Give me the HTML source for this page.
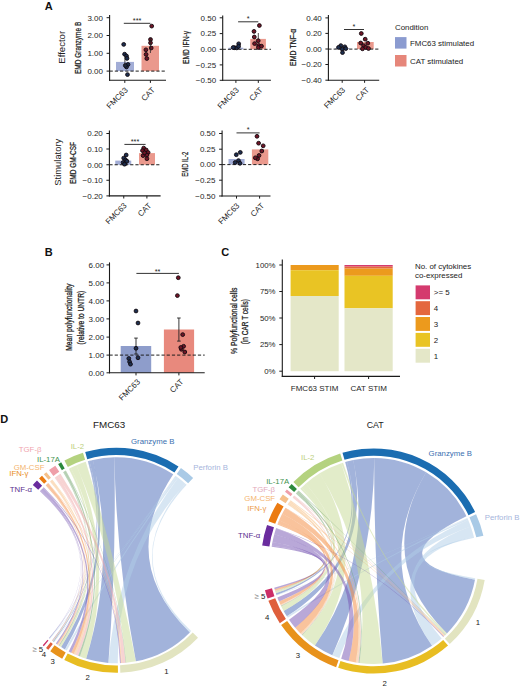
<!DOCTYPE html>
<html><head><meta charset="utf-8"><style>
html,body{margin:0;padding:0;background:#fff;width:520px;height:688px;overflow:hidden}
body{position:relative;font-family:"Liberation Sans", sans-serif}
</style></head><body>
<svg width="520" height="688" viewBox="0 0 520 688" style="position:absolute;left:0;top:0">
<g font-family='"Liberation Sans", sans-serif'>
<text x="44.8" y="10.2" font-size="11" text-anchor="start" fill="#111" font-weight="bold">A</text>
<text x="44.8" y="256.4" font-size="11" text-anchor="start" fill="#111" font-weight="bold">B</text>
<text x="221.3" y="256.4" font-size="11" text-anchor="start" fill="#111" font-weight="bold">C</text>
<text x="0.3" y="423.2" font-size="11" text-anchor="start" fill="#111" font-weight="bold">D</text>
<text x="65" y="47.3" font-size="9.6" text-anchor="middle" fill="#222" font-weight="normal" transform="rotate(-90 65 47.3)">Effector</text>
<text x="60.8" y="162.2" font-size="9.4" text-anchor="middle" fill="#222" font-weight="normal" transform="rotate(-90 60.8 162.2)">Stimulatory</text>
<line x1="109.6" y1="15" x2="109.6" y2="80.8" stroke="#1a1a1a" stroke-width="1.1"/>
<line x1="109.1" y1="80.3" x2="166" y2="80.3" stroke="#1a1a1a" stroke-width="1.1"/>
<line x1="106.6" y1="17.7" x2="109.6" y2="17.7" stroke="#1a1a1a" stroke-width="1"/>
<text x="103.0" y="20.5" font-size="8" text-anchor="end" fill="#262626" font-weight="normal">3.00</text>
<line x1="106.6" y1="35.5" x2="109.6" y2="35.5" stroke="#1a1a1a" stroke-width="1"/>
<text x="103.0" y="38.3" font-size="8" text-anchor="end" fill="#262626" font-weight="normal">2.00</text>
<line x1="106.6" y1="53.3" x2="109.6" y2="53.3" stroke="#1a1a1a" stroke-width="1"/>
<text x="103.0" y="56.099999999999994" font-size="8" text-anchor="end" fill="#262626" font-weight="normal">1.00</text>
<line x1="106.6" y1="71.1" x2="109.6" y2="71.1" stroke="#1a1a1a" stroke-width="1"/>
<text x="103.0" y="73.89999999999999" font-size="8" text-anchor="end" fill="#262626" font-weight="normal">0.00</text>
<line x1="124.8" y1="80.3" x2="124.8" y2="82.89999999999999" stroke="#1a1a1a" stroke-width="1"/>
<line x1="150.4" y1="80.3" x2="150.4" y2="82.89999999999999" stroke="#1a1a1a" stroke-width="1"/>
<rect x="116" y="61.9" width="18" height="9.199999999999996" fill="#a2add6"/>
<rect x="141.5" y="45.8" width="17.5" height="25.299999999999997" fill="#ea998d"/>
<line x1="109.6" y1="71.1" x2="166" y2="71.1" stroke="#1e1e1e" stroke-width="1" stroke-dasharray="3.2,2"/>
<circle cx="123.7" cy="44.4" r="1.9" fill="#1c2e4e" stroke="#120a10" stroke-width="0.9"/>
<circle cx="124.6" cy="54.2" r="1.9" fill="#1c2e4e" stroke="#120a10" stroke-width="0.9"/>
<circle cx="126.5" cy="56" r="1.9" fill="#1c2e4e" stroke="#120a10" stroke-width="0.9"/>
<circle cx="127" cy="58.4" r="1.9" fill="#1c2e4e" stroke="#120a10" stroke-width="0.9"/>
<circle cx="128" cy="64.5" r="1.9" fill="#1c2e4e" stroke="#120a10" stroke-width="0.9"/>
<circle cx="126.5" cy="67" r="1.9" fill="#1c2e4e" stroke="#120a10" stroke-width="0.9"/>
<circle cx="125.3" cy="65.5" r="1.9" fill="#1c2e4e" stroke="#120a10" stroke-width="0.9"/>
<circle cx="127.5" cy="74.6" r="1.9" fill="#1c2e4e" stroke="#120a10" stroke-width="0.9"/>
<circle cx="151.7" cy="26.1" r="1.9" fill="#701526" stroke="#120a10" stroke-width="0.9"/>
<circle cx="150.5" cy="39.5" r="1.9" fill="#701526" stroke="#120a10" stroke-width="0.9"/>
<circle cx="150.5" cy="42.8" r="1.9" fill="#701526" stroke="#120a10" stroke-width="0.9"/>
<circle cx="151.2" cy="48" r="1.9" fill="#701526" stroke="#120a10" stroke-width="0.9"/>
<circle cx="145.9" cy="49.8" r="1.9" fill="#701526" stroke="#120a10" stroke-width="0.9"/>
<circle cx="146.1" cy="54.4" r="1.9" fill="#701526" stroke="#120a10" stroke-width="0.9"/>
<circle cx="146.8" cy="58.5" r="1.9" fill="#701526" stroke="#120a10" stroke-width="0.9"/>
<line x1="123.8" y1="23.3" x2="150.4" y2="23.3" stroke="#333" stroke-width="1"/>
<text x="137.1" y="22.8" font-size="7.3" text-anchor="middle" fill="#222" font-weight="normal">***</text>
<text x="81.0" y="47.9" font-size="9" text-anchor="middle" fill="#1a1a1a" font-weight="normal" transform="rotate(-90 81.0 47.9)" textLength="52.4" lengthAdjust="spacingAndGlyphs" stroke="#1a1a1a" stroke-width="0.25">EMD Granzyme B</text>
<text x="128.3" y="90.6" font-size="8" text-anchor="end" fill="#262626" font-weight="normal" transform="rotate(-45 128.3 90.6)">FMC63</text>
<text x="155.4" y="90.6" font-size="8" text-anchor="end" fill="#262626" font-weight="normal" transform="rotate(-45 155.4 90.6)">CAT</text>
<line x1="124.9" y1="57" x2="124.9" y2="67" stroke="#222" stroke-width="0.8"/>
<line x1="150.4" y1="38" x2="150.4" y2="53" stroke="#222" stroke-width="0.8"/>
<line x1="258.3" y1="33" x2="258.3" y2="44" stroke="#222" stroke-width="0.8"/>
<line x1="222.7" y1="15.4" x2="222.7" y2="80.8" stroke="#1a1a1a" stroke-width="1.1"/>
<line x1="222.2" y1="80.3" x2="270.9" y2="80.3" stroke="#1a1a1a" stroke-width="1.1"/>
<line x1="219.7" y1="17.8" x2="222.7" y2="17.8" stroke="#1a1a1a" stroke-width="1"/>
<text x="216.1" y="20.6" font-size="8" text-anchor="end" fill="#262626" font-weight="normal">0.50</text>
<line x1="219.7" y1="33.6" x2="222.7" y2="33.6" stroke="#1a1a1a" stroke-width="1"/>
<text x="216.1" y="36.4" font-size="8" text-anchor="end" fill="#262626" font-weight="normal">0.25</text>
<line x1="219.7" y1="49.3" x2="222.7" y2="49.3" stroke="#1a1a1a" stroke-width="1"/>
<text x="216.1" y="52.099999999999994" font-size="8" text-anchor="end" fill="#262626" font-weight="normal">0.00</text>
<line x1="219.7" y1="64.9" x2="222.7" y2="64.9" stroke="#1a1a1a" stroke-width="1"/>
<text x="216.1" y="67.7" font-size="8" text-anchor="end" fill="#262626" font-weight="normal">−0.25</text>
<line x1="219.7" y1="80.3" x2="222.7" y2="80.3" stroke="#1a1a1a" stroke-width="1"/>
<text x="216.1" y="83.1" font-size="8" text-anchor="end" fill="#262626" font-weight="normal">−0.50</text>
<line x1="235.9" y1="80.3" x2="235.9" y2="82.89999999999999" stroke="#1a1a1a" stroke-width="1"/>
<line x1="258.3" y1="80.3" x2="258.3" y2="82.89999999999999" stroke="#1a1a1a" stroke-width="1"/>
<rect x="228.5" y="47.7" width="14.800000000000011" height="1.5999999999999943" fill="#a2add6"/>
<rect x="250.3" y="38.9" width="15.599999999999966" height="10.399999999999999" fill="#ea998d"/>
<line x1="222.7" y1="49.3" x2="270.9" y2="49.3" stroke="#1e1e1e" stroke-width="1" stroke-dasharray="3.2,2"/>
<circle cx="238.7" cy="43.8" r="1.9" fill="#1c2e4e" stroke="#120a10" stroke-width="0.9"/>
<circle cx="234.6" cy="47.7" r="1.9" fill="#1c2e4e" stroke="#120a10" stroke-width="0.9"/>
<circle cx="236.8" cy="47.9" r="1.9" fill="#1c2e4e" stroke="#120a10" stroke-width="0.9"/>
<circle cx="238.6" cy="46.4" r="1.9" fill="#1c2e4e" stroke="#120a10" stroke-width="0.9"/>
<circle cx="233.2" cy="47.5" r="1.9" fill="#1c2e4e" stroke="#120a10" stroke-width="0.9"/>
<circle cx="259.4" cy="25.5" r="1.9" fill="#701526" stroke="#120a10" stroke-width="0.9"/>
<circle cx="254" cy="31.4" r="1.9" fill="#701526" stroke="#120a10" stroke-width="0.9"/>
<circle cx="254.3" cy="37" r="1.9" fill="#701526" stroke="#120a10" stroke-width="0.9"/>
<circle cx="258.2" cy="40.7" r="1.9" fill="#701526" stroke="#120a10" stroke-width="0.9"/>
<circle cx="254.6" cy="43.6" r="1.9" fill="#701526" stroke="#120a10" stroke-width="0.9"/>
<circle cx="258.7" cy="45.5" r="1.9" fill="#701526" stroke="#120a10" stroke-width="0.9"/>
<circle cx="258.4" cy="47.5" r="1.9" fill="#701526" stroke="#120a10" stroke-width="0.9"/>
<circle cx="261.5" cy="46.2" r="1.9" fill="#701526" stroke="#120a10" stroke-width="0.9"/>
<line x1="238.1" y1="21.8" x2="258.3" y2="21.8" stroke="#333" stroke-width="1"/>
<text x="248.2" y="21.0" font-size="7.3" text-anchor="middle" fill="#222" font-weight="normal">*</text>
<text x="189.4" y="47.5" font-size="9" text-anchor="middle" fill="#1a1a1a" font-weight="normal" transform="rotate(-90 189.4 47.5)" textLength="33.2" lengthAdjust="spacingAndGlyphs" stroke="#1a1a1a" stroke-width="0.25">EMD IFN-γ</text>
<text x="239.4" y="90.6" font-size="8" text-anchor="end" fill="#262626" font-weight="normal" transform="rotate(-45 239.4 90.6)">FMC63</text>
<text x="263.3" y="90.6" font-size="8" text-anchor="end" fill="#262626" font-weight="normal" transform="rotate(-45 263.3 90.6)">CAT</text>
<line x1="328.4" y1="15" x2="328.4" y2="80.7" stroke="#1a1a1a" stroke-width="1.1"/>
<line x1="327.9" y1="80.2" x2="379.2" y2="80.2" stroke="#1a1a1a" stroke-width="1.1"/>
<line x1="325.4" y1="17.9" x2="328.4" y2="17.9" stroke="#1a1a1a" stroke-width="1"/>
<text x="321.79999999999995" y="20.7" font-size="8" text-anchor="end" fill="#262626" font-weight="normal">0.40</text>
<line x1="325.4" y1="33.4" x2="328.4" y2="33.4" stroke="#1a1a1a" stroke-width="1"/>
<text x="321.79999999999995" y="36.199999999999996" font-size="8" text-anchor="end" fill="#262626" font-weight="normal">0.20</text>
<line x1="325.4" y1="49" x2="328.4" y2="49" stroke="#1a1a1a" stroke-width="1"/>
<text x="321.79999999999995" y="51.8" font-size="8" text-anchor="end" fill="#262626" font-weight="normal">0.00</text>
<line x1="325.4" y1="64.5" x2="328.4" y2="64.5" stroke="#1a1a1a" stroke-width="1"/>
<text x="321.79999999999995" y="67.3" font-size="8" text-anchor="end" fill="#262626" font-weight="normal">−0.20</text>
<line x1="325.4" y1="80.2" x2="328.4" y2="80.2" stroke="#1a1a1a" stroke-width="1"/>
<text x="321.79999999999995" y="83.0" font-size="8" text-anchor="end" fill="#262626" font-weight="normal">−0.40</text>
<line x1="342.2" y1="80.2" x2="342.2" y2="82.8" stroke="#1a1a1a" stroke-width="1"/>
<line x1="364.6" y1="80.2" x2="364.6" y2="82.8" stroke="#1a1a1a" stroke-width="1"/>
<rect x="335" y="48.2" width="14.5" height="0.8999999999999986" fill="#a2add6"/>
<rect x="357" y="42" width="16.69999999999999" height="7.100000000000001" fill="#ea998d"/>
<line x1="328.4" y1="49.1" x2="379.2" y2="49.1" stroke="#1e1e1e" stroke-width="1" stroke-dasharray="3.2,2"/>
<circle cx="340.8" cy="45.6" r="1.9" fill="#1c2e4e" stroke="#120a10" stroke-width="0.9"/>
<circle cx="344.8" cy="46.8" r="1.9" fill="#1c2e4e" stroke="#120a10" stroke-width="0.9"/>
<circle cx="342.3" cy="49.2" r="1.9" fill="#1c2e4e" stroke="#120a10" stroke-width="0.9"/>
<circle cx="338.5" cy="47.4" r="1.9" fill="#1c2e4e" stroke="#120a10" stroke-width="0.9"/>
<circle cx="342.5" cy="52.6" r="1.9" fill="#1c2e4e" stroke="#120a10" stroke-width="0.9"/>
<circle cx="345.8" cy="48.6" r="1.9" fill="#1c2e4e" stroke="#120a10" stroke-width="0.9"/>
<circle cx="361.3" cy="33.5" r="1.9" fill="#701526" stroke="#120a10" stroke-width="0.9"/>
<circle cx="365.2" cy="39.2" r="1.9" fill="#701526" stroke="#120a10" stroke-width="0.9"/>
<circle cx="367.8" cy="43.2" r="1.9" fill="#701526" stroke="#120a10" stroke-width="0.9"/>
<circle cx="363.6" cy="45.6" r="1.9" fill="#701526" stroke="#120a10" stroke-width="0.9"/>
<circle cx="360.7" cy="43" r="1.9" fill="#701526" stroke="#120a10" stroke-width="0.9"/>
<circle cx="365.7" cy="47.4" r="1.9" fill="#701526" stroke="#120a10" stroke-width="0.9"/>
<circle cx="368.5" cy="48.5" r="1.9" fill="#701526" stroke="#120a10" stroke-width="0.9"/>
<circle cx="362.5" cy="48.8" r="1.9" fill="#701526" stroke="#120a10" stroke-width="0.9"/>
<line x1="344" y1="29.5" x2="364" y2="29.5" stroke="#333" stroke-width="1"/>
<text x="354.0" y="28.7" font-size="7.3" text-anchor="middle" fill="#222" font-weight="normal">*</text>
<text x="296.2" y="47.3" font-size="9" text-anchor="middle" fill="#1a1a1a" font-weight="normal" transform="rotate(-90 296.2 47.3)" textLength="37.4" lengthAdjust="spacingAndGlyphs" stroke="#1a1a1a" stroke-width="0.25">EMD TNF-α</text>
<text x="345.7" y="90.5" font-size="8" text-anchor="end" fill="#262626" font-weight="normal" transform="rotate(-45 345.7 90.5)">FMC63</text>
<text x="369.6" y="90.5" font-size="8" text-anchor="end" fill="#262626" font-weight="normal" transform="rotate(-45 369.6 90.5)">CAT</text>
<line x1="109.4" y1="130.6" x2="109.4" y2="196.4" stroke="#1a1a1a" stroke-width="1.1"/>
<line x1="108.9" y1="195.9" x2="160.6" y2="195.9" stroke="#1a1a1a" stroke-width="1.1"/>
<line x1="106.4" y1="133.5" x2="109.4" y2="133.5" stroke="#1a1a1a" stroke-width="1"/>
<text x="102.80000000000001" y="136.3" font-size="8" text-anchor="end" fill="#262626" font-weight="normal">0.20</text>
<line x1="106.4" y1="149" x2="109.4" y2="149" stroke="#1a1a1a" stroke-width="1"/>
<text x="102.80000000000001" y="151.8" font-size="8" text-anchor="end" fill="#262626" font-weight="normal">0.10</text>
<line x1="106.4" y1="164.75" x2="109.4" y2="164.75" stroke="#1a1a1a" stroke-width="1"/>
<text x="102.80000000000001" y="167.55" font-size="8" text-anchor="end" fill="#262626" font-weight="normal">0.00</text>
<line x1="106.4" y1="180.25" x2="109.4" y2="180.25" stroke="#1a1a1a" stroke-width="1"/>
<text x="102.80000000000001" y="183.05" font-size="8" text-anchor="end" fill="#262626" font-weight="normal">−0.10</text>
<line x1="106.4" y1="195.9" x2="109.4" y2="195.9" stroke="#1a1a1a" stroke-width="1"/>
<text x="102.80000000000001" y="198.70000000000002" font-size="8" text-anchor="end" fill="#262626" font-weight="normal">−0.20</text>
<line x1="123.75" y1="195.9" x2="123.75" y2="198.5" stroke="#1a1a1a" stroke-width="1"/>
<line x1="146.9" y1="195.9" x2="146.9" y2="198.5" stroke="#1a1a1a" stroke-width="1"/>
<rect x="115.25" y="160.6" width="16.0" height="4.150000000000006" fill="#a2add6"/>
<rect x="139" y="153.1" width="16" height="11.650000000000006" fill="#ea998d"/>
<line x1="109.4" y1="164.75" x2="160.6" y2="164.75" stroke="#1e1e1e" stroke-width="1" stroke-dasharray="3.2,2"/>
<circle cx="126.2" cy="155" r="1.9" fill="#1c2e4e" stroke="#120a10" stroke-width="0.9"/>
<circle cx="123.7" cy="158.1" r="1.9" fill="#1c2e4e" stroke="#120a10" stroke-width="0.9"/>
<circle cx="125.6" cy="160" r="1.9" fill="#1c2e4e" stroke="#120a10" stroke-width="0.9"/>
<circle cx="123.1" cy="162.5" r="1.9" fill="#1c2e4e" stroke="#120a10" stroke-width="0.9"/>
<circle cx="125" cy="163.7" r="1.9" fill="#1c2e4e" stroke="#120a10" stroke-width="0.9"/>
<circle cx="126.9" cy="161.2" r="1.9" fill="#1c2e4e" stroke="#120a10" stroke-width="0.9"/>
<circle cx="124.5" cy="164.2" r="1.9" fill="#1c2e4e" stroke="#120a10" stroke-width="0.9"/>
<circle cx="143.7" cy="148.1" r="1.9" fill="#701526" stroke="#120a10" stroke-width="0.9"/>
<circle cx="142.5" cy="150.6" r="1.9" fill="#701526" stroke="#120a10" stroke-width="0.9"/>
<circle cx="146.2" cy="150" r="1.9" fill="#701526" stroke="#120a10" stroke-width="0.9"/>
<circle cx="148.1" cy="152.5" r="1.9" fill="#701526" stroke="#120a10" stroke-width="0.9"/>
<circle cx="143.1" cy="155.6" r="1.9" fill="#701526" stroke="#120a10" stroke-width="0.9"/>
<circle cx="146.9" cy="155" r="1.9" fill="#701526" stroke="#120a10" stroke-width="0.9"/>
<circle cx="146.9" cy="158.7" r="1.9" fill="#701526" stroke="#120a10" stroke-width="0.9"/>
<circle cx="144.5" cy="152.8" r="1.9" fill="#701526" stroke="#120a10" stroke-width="0.9"/>
<line x1="124.4" y1="144.4" x2="145.6" y2="144.4" stroke="#333" stroke-width="1"/>
<text x="135.0" y="143.9" font-size="7.3" text-anchor="middle" fill="#222" font-weight="normal">***</text>
<text x="76.3" y="163" font-size="9" text-anchor="middle" fill="#1a1a1a" font-weight="normal" transform="rotate(-90 76.3 163)" textLength="42" lengthAdjust="spacingAndGlyphs" stroke="#1a1a1a" stroke-width="0.25">EMD GM-CSF</text>
<text x="127.25" y="206.20000000000002" font-size="8" text-anchor="end" fill="#262626" font-weight="normal" transform="rotate(-45 127.25 206.20000000000002)">FMC63</text>
<text x="151.9" y="206.20000000000002" font-size="8" text-anchor="end" fill="#262626" font-weight="normal" transform="rotate(-45 151.9 206.20000000000002)">CAT</text>
<line x1="222.1" y1="130.6" x2="222.1" y2="196.5" stroke="#1a1a1a" stroke-width="1.1"/>
<line x1="221.6" y1="196" x2="270.5" y2="196" stroke="#1a1a1a" stroke-width="1.1"/>
<line x1="219.1" y1="133.5" x2="222.1" y2="133.5" stroke="#1a1a1a" stroke-width="1"/>
<text x="215.5" y="136.3" font-size="8" text-anchor="end" fill="#262626" font-weight="normal">0.50</text>
<line x1="219.1" y1="149.2" x2="222.1" y2="149.2" stroke="#1a1a1a" stroke-width="1"/>
<text x="215.5" y="152.0" font-size="8" text-anchor="end" fill="#262626" font-weight="normal">0.25</text>
<line x1="219.1" y1="164.6" x2="222.1" y2="164.6" stroke="#1a1a1a" stroke-width="1"/>
<text x="215.5" y="167.4" font-size="8" text-anchor="end" fill="#262626" font-weight="normal">0.00</text>
<line x1="219.1" y1="180.2" x2="222.1" y2="180.2" stroke="#1a1a1a" stroke-width="1"/>
<text x="215.5" y="183.0" font-size="8" text-anchor="end" fill="#262626" font-weight="normal">−0.25</text>
<line x1="219.1" y1="196" x2="222.1" y2="196" stroke="#1a1a1a" stroke-width="1"/>
<text x="215.5" y="198.8" font-size="8" text-anchor="end" fill="#262626" font-weight="normal">−0.50</text>
<line x1="236.5" y1="196" x2="236.5" y2="198.6" stroke="#1a1a1a" stroke-width="1"/>
<line x1="259.6" y1="196" x2="259.6" y2="198.6" stroke="#1a1a1a" stroke-width="1"/>
<rect x="228.5" y="159" width="16.099999999999994" height="5.599999999999994" fill="#a2add6"/>
<rect x="251.9" y="149.4" width="16.400000000000006" height="15.199999999999989" fill="#ea998d"/>
<line x1="222.1" y1="164.6" x2="270.5" y2="164.6" stroke="#1e1e1e" stroke-width="1" stroke-dasharray="3.2,2"/>
<circle cx="240.3" cy="152.4" r="1.9" fill="#1c2e4e" stroke="#120a10" stroke-width="0.9"/>
<circle cx="236.3" cy="154.7" r="1.9" fill="#1c2e4e" stroke="#120a10" stroke-width="0.9"/>
<circle cx="238.5" cy="160.6" r="1.9" fill="#1c2e4e" stroke="#120a10" stroke-width="0.9"/>
<circle cx="235.2" cy="162.5" r="1.9" fill="#1c2e4e" stroke="#120a10" stroke-width="0.9"/>
<circle cx="240" cy="163.3" r="1.9" fill="#1c2e4e" stroke="#120a10" stroke-width="0.9"/>
<circle cx="257" cy="136.3" r="1.9" fill="#701526" stroke="#120a10" stroke-width="0.9"/>
<circle cx="258.6" cy="143.2" r="1.9" fill="#701526" stroke="#120a10" stroke-width="0.9"/>
<circle cx="263.2" cy="145.8" r="1.9" fill="#701526" stroke="#120a10" stroke-width="0.9"/>
<circle cx="261.8" cy="151" r="1.9" fill="#701526" stroke="#120a10" stroke-width="0.9"/>
<circle cx="259" cy="155.5" r="1.9" fill="#701526" stroke="#120a10" stroke-width="0.9"/>
<circle cx="257.6" cy="158.8" r="1.9" fill="#701526" stroke="#120a10" stroke-width="0.9"/>
<circle cx="255.3" cy="157.8" r="1.9" fill="#701526" stroke="#120a10" stroke-width="0.9"/>
<line x1="236.5" y1="132.9" x2="259.6" y2="132.9" stroke="#333" stroke-width="1"/>
<text x="248.05" y="132.1" font-size="7.3" text-anchor="middle" fill="#222" font-weight="normal">*</text>
<text x="188.5" y="164.2" font-size="9" text-anchor="middle" fill="#1a1a1a" font-weight="normal" transform="rotate(-90 188.5 164.2)" textLength="25" lengthAdjust="spacingAndGlyphs" stroke="#1a1a1a" stroke-width="0.25">EMD IL-2</text>
<text x="240.0" y="206.3" font-size="8" text-anchor="end" fill="#262626" font-weight="normal" transform="rotate(-45 240.0 206.3)">FMC63</text>
<text x="264.6" y="206.3" font-size="8" text-anchor="end" fill="#262626" font-weight="normal" transform="rotate(-45 264.6 206.3)">CAT</text>
<text x="395" y="30.4" font-size="7.9" text-anchor="start" fill="#222" font-weight="normal">Condition</text>
<rect x="395" y="37.1" width="11.5" height="11.5" fill="#8b9bd0"/>
<text x="410" y="46" font-size="7.9" text-anchor="start" fill="#222" font-weight="normal">FMC63 stimulated</text>
<rect x="395" y="55" width="11.5" height="11.5" fill="#e6867a"/>
<text x="410" y="64" font-size="7.9" text-anchor="start" fill="#222" font-weight="normal">CAT stimulated</text>
<rect x="120.7" y="346" width="30.499999999999986" height="26.80000000000001" fill="#8e9dcb"/>
<rect x="163.9" y="329.5" width="30.19999999999999" height="43.30000000000001" fill="#e8897d"/>
<line x1="109.5" y1="262.4" x2="109.5" y2="373.3" stroke="#1a1a1a" stroke-width="1.1"/>
<line x1="109.0" y1="372.8" x2="204.7" y2="372.8" stroke="#1a1a1a" stroke-width="1.1"/>
<line x1="106.5" y1="264.9" x2="109.5" y2="264.9" stroke="#1a1a1a" stroke-width="1"/>
<text x="104.1" y="267.7" font-size="8" text-anchor="end" fill="#262626" font-weight="normal">6.00</text>
<line x1="106.5" y1="282.9" x2="109.5" y2="282.9" stroke="#1a1a1a" stroke-width="1"/>
<text x="104.1" y="285.7" font-size="8" text-anchor="end" fill="#262626" font-weight="normal">5.00</text>
<line x1="106.5" y1="300.9" x2="109.5" y2="300.9" stroke="#1a1a1a" stroke-width="1"/>
<text x="104.1" y="303.7" font-size="8" text-anchor="end" fill="#262626" font-weight="normal">4.00</text>
<line x1="106.5" y1="318.9" x2="109.5" y2="318.9" stroke="#1a1a1a" stroke-width="1"/>
<text x="104.1" y="321.7" font-size="8" text-anchor="end" fill="#262626" font-weight="normal">3.00</text>
<line x1="106.5" y1="337.1" x2="109.5" y2="337.1" stroke="#1a1a1a" stroke-width="1"/>
<text x="104.1" y="339.90000000000003" font-size="8" text-anchor="end" fill="#262626" font-weight="normal">2.00</text>
<line x1="106.5" y1="355.1" x2="109.5" y2="355.1" stroke="#1a1a1a" stroke-width="1"/>
<text x="104.1" y="357.90000000000003" font-size="8" text-anchor="end" fill="#262626" font-weight="normal">1.00</text>
<line x1="106.5" y1="372.8" x2="109.5" y2="372.8" stroke="#1a1a1a" stroke-width="1"/>
<text x="104.1" y="375.6" font-size="8" text-anchor="end" fill="#262626" font-weight="normal">0.00</text>
<line x1="136" y1="372.8" x2="136" y2="375.40000000000003" stroke="#1a1a1a" stroke-width="1"/>
<line x1="178.9" y1="372.8" x2="178.9" y2="375.40000000000003" stroke="#1a1a1a" stroke-width="1"/>
<line x1="109.5" y1="355.1" x2="204.7" y2="355.1" stroke="#1e1e1e" stroke-width="1" stroke-dasharray="3.2,2"/>
<line x1="136" y1="338.1" x2="136" y2="354" stroke="#222" stroke-width="0.9"/>
<line x1="134.2" y1="338.1" x2="137.8" y2="338.1" stroke="#222" stroke-width="0.9"/>
<line x1="134.2" y1="354" x2="137.8" y2="354" stroke="#222" stroke-width="0.9"/>
<line x1="178.9" y1="318" x2="178.9" y2="341.1" stroke="#222" stroke-width="0.9"/>
<line x1="177.1" y1="318" x2="180.70000000000002" y2="318" stroke="#222" stroke-width="0.9"/>
<line x1="177.1" y1="341.1" x2="180.70000000000002" y2="341.1" stroke="#222" stroke-width="0.9"/>
<circle cx="136" cy="311" r="1.9" fill="#1c2e4e" stroke="#120a10" stroke-width="0.9"/>
<circle cx="138" cy="323" r="1.9" fill="#1c2e4e" stroke="#120a10" stroke-width="0.9"/>
<circle cx="136" cy="348.3" r="1.9" fill="#1c2e4e" stroke="#120a10" stroke-width="0.9"/>
<circle cx="138" cy="357.8" r="1.9" fill="#1c2e4e" stroke="#120a10" stroke-width="0.9"/>
<circle cx="128.8" cy="358.5" r="1.9" fill="#1c2e4e" stroke="#120a10" stroke-width="0.9"/>
<circle cx="129.6" cy="361.8" r="1.9" fill="#1c2e4e" stroke="#120a10" stroke-width="0.9"/>
<circle cx="130.5" cy="364.2" r="1.9" fill="#1c2e4e" stroke="#120a10" stroke-width="0.9"/>
<circle cx="178.3" cy="277.7" r="1.9" fill="#701526" stroke="#120a10" stroke-width="0.9"/>
<circle cx="177.4" cy="295.6" r="1.9" fill="#701526" stroke="#120a10" stroke-width="0.9"/>
<circle cx="182.7" cy="334.6" r="1.9" fill="#701526" stroke="#120a10" stroke-width="0.9"/>
<circle cx="183.6" cy="346.3" r="1.9" fill="#701526" stroke="#120a10" stroke-width="0.9"/>
<circle cx="181.4" cy="349.3" r="1.9" fill="#701526" stroke="#120a10" stroke-width="0.9"/>
<circle cx="184.8" cy="352" r="1.9" fill="#701526" stroke="#120a10" stroke-width="0.9"/>
<circle cx="180.8" cy="347.5" r="1.9" fill="#701526" stroke="#120a10" stroke-width="0.9"/>
<line x1="136.4" y1="273.4" x2="178.9" y2="273.4" stroke="#333" stroke-width="1"/>
<text x="157.6" y="273.7" font-size="7.3" text-anchor="middle" fill="#222" font-weight="normal">**</text>
<text x="72.3" y="317.2" font-size="8.6" text-anchor="middle" fill="#1a1a1a" font-weight="normal" transform="rotate(-90 72.3 317.2)" textLength="67.2" lengthAdjust="spacingAndGlyphs" stroke="#1a1a1a" stroke-width="0.25">Mean polyfunctionality</text>
<text x="83.6" y="317.6" font-size="8.6" text-anchor="middle" fill="#1a1a1a" font-weight="normal" transform="rotate(-90 83.6 317.6)" textLength="53.6" lengthAdjust="spacingAndGlyphs" stroke="#1a1a1a" stroke-width="0.25">(relative to UNTR)</text>
<text x="140.6" y="382.4" font-size="8" text-anchor="end" fill="#262626" font-weight="normal" transform="rotate(-45 140.6 382.4)">FMC63</text>
<text x="184.0" y="382.4" font-size="8" text-anchor="end" fill="#262626" font-weight="normal" transform="rotate(-45 184.0 382.4)">CAT</text>
<rect x="290.6" y="265" width="48.099999999999966" height="5.199999999999989" fill="#ec9a1d"/>
<rect x="290.6" y="270.2" width="48.099999999999966" height="25.80000000000001" fill="#e9c424"/>
<rect x="290.6" y="296" width="48.099999999999966" height="75.19999999999999" fill="#e4e7c8"/>
<rect x="344.5" y="265" width="48.19999999999999" height="1.6000000000000227" fill="#d43a6e"/>
<rect x="344.5" y="266.6" width="48.19999999999999" height="2.0" fill="#e4673e"/>
<rect x="344.5" y="268.6" width="48.19999999999999" height="7.199999999999989" fill="#ec9a1d"/>
<rect x="344.5" y="275.8" width="48.19999999999999" height="32.5" fill="#e9c424"/>
<rect x="344.5" y="308.3" width="48.19999999999999" height="62.89999999999998" fill="#e4e7c8"/>
<line x1="282.3" y1="259.6" x2="282.3" y2="376.9" stroke="#1a1a1a" stroke-width="1.1"/>
<line x1="281.8" y1="376.4" x2="400" y2="376.4" stroke="#1a1a1a" stroke-width="1.1"/>
<line x1="279.3" y1="265" x2="282.3" y2="265" stroke="#1a1a1a" stroke-width="1"/>
<text x="275.5" y="267.8" font-size="7.8" text-anchor="end" fill="#262626" font-weight="normal">100%</text>
<line x1="279.3" y1="291.5" x2="282.3" y2="291.5" stroke="#1a1a1a" stroke-width="1"/>
<text x="275.5" y="294.3" font-size="7.8" text-anchor="end" fill="#262626" font-weight="normal">75%</text>
<line x1="279.3" y1="318" x2="282.3" y2="318" stroke="#1a1a1a" stroke-width="1"/>
<text x="275.5" y="320.8" font-size="7.8" text-anchor="end" fill="#262626" font-weight="normal">50%</text>
<line x1="279.3" y1="344.6" x2="282.3" y2="344.6" stroke="#1a1a1a" stroke-width="1"/>
<text x="275.5" y="347.40000000000003" font-size="7.8" text-anchor="end" fill="#262626" font-weight="normal">25%</text>
<line x1="279.3" y1="371.2" x2="282.3" y2="371.2" stroke="#1a1a1a" stroke-width="1"/>
<text x="275.5" y="374.0" font-size="7.8" text-anchor="end" fill="#262626" font-weight="normal">0%</text>
<line x1="314.6" y1="376.4" x2="314.6" y2="379.0" stroke="#1a1a1a" stroke-width="1"/>
<line x1="368.6" y1="376.4" x2="368.6" y2="379.0" stroke="#1a1a1a" stroke-width="1"/>
<text x="314.6" y="390.5" font-size="8" text-anchor="middle" fill="#262626" font-weight="normal">FMC63 STIM</text>
<text x="368.7" y="390.5" font-size="8" text-anchor="middle" fill="#262626" font-weight="normal">CAT STIM</text>
<text x="237.3" y="320.8" font-size="8.6" text-anchor="middle" fill="#1a1a1a" font-weight="normal" transform="rotate(-90 237.3 320.8)" textLength="66.3" lengthAdjust="spacingAndGlyphs" stroke="#1a1a1a" stroke-width="0.25">% Polyfunctional cells</text>
<text x="248.3" y="321.6" font-size="8.6" text-anchor="middle" fill="#1a1a1a" font-weight="normal" transform="rotate(-90 248.3 321.6)" textLength="45.3" lengthAdjust="spacingAndGlyphs" stroke="#1a1a1a" stroke-width="0.25">(in CAR T cells)</text>
<text x="415" y="269.4" font-size="7.9" text-anchor="start" fill="#222" font-weight="normal">No. of cytokines</text>
<text x="415" y="278.2" font-size="7.9" text-anchor="start" fill="#222" font-weight="normal">co-expressed</text>
<rect x="415.6" y="285.4" width="14.4" height="13.9" fill="#d43a6e"/>
<text x="433.8" y="295.09999999999997" font-size="7.9" text-anchor="start" fill="#222" font-weight="normal">&gt;= 5</text>
<rect x="415.6" y="301.2" width="14.4" height="13.9" fill="#e4673e"/>
<text x="433.8" y="310.9" font-size="7.9" text-anchor="start" fill="#222" font-weight="normal">4</text>
<rect x="415.6" y="317" width="14.4" height="13.9" fill="#ec9a1d"/>
<text x="433.8" y="326.7" font-size="7.9" text-anchor="start" fill="#222" font-weight="normal">3</text>
<rect x="415.6" y="332.9" width="14.4" height="13.9" fill="#e9c424"/>
<text x="433.8" y="342.59999999999997" font-size="7.9" text-anchor="start" fill="#222" font-weight="normal">2</text>
<rect x="415.6" y="348.8" width="14.4" height="13.9" fill="#e4e7c8"/>
<text x="433.8" y="358.5" font-size="7.9" text-anchor="start" fill="#222" font-weight="normal">1</text>
<path d="M32.80,484.92A112.5,112.5 0 0 1 36.99,480.51L42.14,485.68A105.2,105.2 0 0 0 38.22,489.81Z" fill="#6a2c9e"/>
<path d="M39.10,478.46A112.5,112.5 0 0 1 42.00,475.81L46.83,481.29A105.2,105.2 0 0 0 44.12,483.76Z" fill="#eb7b12"/>
<path d="M43.79,474.27A112.5,112.5 0 0 1 46.37,472.16L50.91,477.87A105.2,105.2 0 0 0 48.50,479.85Z" fill="#f5c08a"/>
<path d="M49.01,470.12A112.5,112.5 0 0 1 55.29,465.74L59.26,471.87A105.2,105.2 0 0 0 53.38,475.96Z" fill="#ef9fa9"/>
<path d="M58.12,463.97A112.5,112.5 0 0 1 61.17,462.19L64.76,468.55A105.2,105.2 0 0 0 61.90,470.22Z" fill="#2b8a3c"/>
<path d="M64.45,460.41A112.5,112.5 0 0 1 82.95,452.79L85.12,459.76A105.2,105.2 0 0 0 67.82,466.89Z" fill="#b4d27f"/>
<path d="M85.20,452.11A112.5,112.5 0 0 1 178.49,466.39L174.46,472.48A105.2,105.2 0 0 0 87.23,459.13Z" fill="#1b6db1"/>
<path d="M180.93,468.05A112.5,112.5 0 0 1 193.12,477.92L188.15,483.26A105.2,105.2 0 0 0 176.74,474.03Z" fill="#a9cae6"/>
<path d="M198.00,637.64A112.5,112.5 0 0 1 120.33,672.63L120.07,665.34A105.2,105.2 0 0 0 192.71,632.61Z" fill="#e2e4c0"/>
<path d="M117.97,672.69A112.5,112.5 0 0 1 64.28,659.90L67.66,653.43A105.2,105.2 0 0 0 117.87,665.39Z" fill="#e8bd22"/>
<path d="M62.20,658.78A112.5,112.5 0 0 1 50.27,651.21L54.56,645.31A105.2,105.2 0 0 0 65.72,652.39Z" fill="#e8921b"/>
<path d="M48.38,649.81A112.5,112.5 0 0 1 46.06,648.00L50.62,642.30A105.2,105.2 0 0 0 52.80,643.99Z" fill="#df5f3c"/>
<path d="M43.79,646.13A112.5,112.5 0 0 1 42.74,645.23L47.52,639.72A105.2,105.2 0 0 0 48.50,640.55Z" fill="#cc2f68"/>
<path d="M114.35,457.22A103,103 0 0 1 173.25,474.31Q116.40,560.20 189.86,632.40A103,103 0 0 1 135.91,661.33Q116.40,560.20 114.35,457.22Z" fill="#4568b8" fill-opacity="0.5"/>
<path d="M92.90,459.92A103,103 0 0 1 114.35,457.22Q116.40,560.20 108.39,662.89A103,103 0 0 1 86.15,658.66Q116.40,560.20 92.90,459.92Z" fill="#4568b8" fill-opacity="0.5"/>
<path d="M89.40,460.80A103,103 0 0 1 92.90,459.92Q116.40,560.20 64.87,649.38A103,103 0 0 1 61.12,647.11Q116.40,560.20 89.40,460.80Z" fill="#4568b8" fill-opacity="0.5"/>
<path d="M88.36,461.09A103,103 0 0 1 89.40,460.80Q116.40,560.20 53.66,641.89A103,103 0 0 1 53.10,641.46Q116.40,560.20 88.36,461.09Z" fill="#4568b8" fill-opacity="0.5"/>
<path d="M87.84,461.24A103,103 0 0 1 88.36,461.09Q116.40,560.20 49.56,638.57A103,103 0 0 1 49.20,638.26Q116.40,560.20 87.84,461.24Z" fill="#4568b8" fill-opacity="0.5"/>
<path d="M185.29,483.63A103,103 0 0 1 186.65,484.87Q116.40,560.20 191.11,631.10A103,103 0 0 1 189.86,632.40Q116.40,560.20 185.29,483.63Z" fill="#b0cde8" fill-opacity="0.5"/>
<path d="M178.17,477.77A103,103 0 0 1 185.29,483.63Q116.40,560.20 117.84,663.19A103,103 0 0 1 108.39,662.89Q116.40,560.20 178.17,477.77Z" fill="#b0cde8" fill-opacity="0.5"/>
<path d="M176.68,476.68A103,103 0 0 1 178.17,477.77Q116.40,560.20 66.78,650.46A103,103 0 0 1 64.87,649.38Q116.40,560.20 176.68,476.68Z" fill="#b0cde8" fill-opacity="0.5"/>
<path d="M175.93,476.15A103,103 0 0 1 176.68,476.68Q116.40,560.20 54.13,642.24A103,103 0 0 1 53.66,641.89Q116.40,560.20 175.93,476.15Z" fill="#b0cde8" fill-opacity="0.5"/>
<path d="M175.48,475.83A103,103 0 0 1 175.93,476.15Q116.40,560.20 49.92,638.87A103,103 0 0 1 49.56,638.57Q116.40,560.20 175.48,475.83Z" fill="#b0cde8" fill-opacity="0.5"/>
<path d="M76.49,465.25A103,103 0 0 1 85.77,461.86Q116.40,560.20 135.91,661.33A103,103 0 0 1 126.11,662.74Q116.40,560.20 76.49,465.25Z" fill="#c6d994" fill-opacity="0.5"/>
<path d="M70.76,467.86A103,103 0 0 1 76.49,465.25Q116.40,560.20 86.15,658.66A103,103 0 0 1 79.89,656.51Q116.40,560.20 70.76,467.86Z" fill="#c6d994" fill-opacity="0.5"/>
<path d="M69.16,468.67A103,103 0 0 1 70.76,467.86Q116.40,560.20 61.12,647.11A103,103 0 0 1 59.28,645.91Q116.40,560.20 69.16,468.67Z" fill="#c6d994" fill-opacity="0.5"/>
<path d="M68.84,468.84A103,103 0 0 1 69.16,468.67Q116.40,560.20 53.10,641.46A103,103 0 0 1 52.92,641.31Q116.40,560.20 68.84,468.84Z" fill="#c6d994" fill-opacity="0.5"/>
<path d="M65.37,470.73A103,103 0 0 1 65.84,470.46Q116.40,560.20 126.11,662.74A103,103 0 0 1 125.57,662.79Q116.40,560.20 65.37,470.73Z" fill="#6a9f64" fill-opacity="0.5"/>
<path d="M63.81,471.64A103,103 0 0 1 65.37,470.73Q116.40,560.20 79.89,656.51A103,103 0 0 1 78.12,655.82Q116.40,560.20 63.81,471.64Z" fill="#6a9f64" fill-opacity="0.5"/>
<path d="M63.35,471.91A103,103 0 0 1 63.81,471.64Q116.40,560.20 59.28,645.91A103,103 0 0 1 58.73,645.54Q116.40,560.20 63.35,471.91Z" fill="#6a9f64" fill-opacity="0.5"/>
<path d="M63.04,472.10A103,103 0 0 1 63.35,471.91Q116.40,560.20 52.92,641.31A103,103 0 0 1 52.73,641.17Q116.40,560.20 63.04,472.10Z" fill="#6a9f64" fill-opacity="0.5"/>
<path d="M57.47,475.72A103,103 0 0 1 60.45,473.72Q116.40,560.20 125.57,662.79A103,103 0 0 1 121.97,663.05Q116.40,560.20 57.47,475.72Z" fill="#efa8a8" fill-opacity="0.5"/>
<path d="M55.28,477.30A103,103 0 0 1 57.47,475.72Q116.40,560.20 78.12,655.82A103,103 0 0 1 75.51,654.73Q116.40,560.20 55.28,477.30Z" fill="#efa8a8" fill-opacity="0.5"/>
<path d="M54.84,477.62A103,103 0 0 1 55.28,477.30Q116.40,560.20 58.73,645.54A103,103 0 0 1 58.19,645.17Q116.40,560.20 54.84,477.62Z" fill="#efa8a8" fill-opacity="0.5"/>
<path d="M54.70,477.72A103,103 0 0 1 54.84,477.62Q116.40,560.20 52.73,641.17A103,103 0 0 1 52.64,641.09Q116.40,560.20 54.70,477.72Z" fill="#efa8a8" fill-opacity="0.5"/>
<path d="M51.88,479.91A103,103 0 0 1 52.28,479.59Q116.40,560.20 121.97,663.05A103,103 0 0 1 121.43,663.08Q116.40,560.20 51.88,479.91Z" fill="#f7bb7c" fill-opacity="0.5"/>
<path d="M50.57,480.98A103,103 0 0 1 51.88,479.91Q116.40,560.20 75.51,654.73A103,103 0 0 1 73.78,653.97Q116.40,560.20 50.57,480.98Z" fill="#f7bb7c" fill-opacity="0.5"/>
<path d="M50.18,481.31A103,103 0 0 1 50.57,480.98Q116.40,560.20 58.19,645.17A103,103 0 0 1 57.65,644.80Q116.40,560.20 50.18,481.31Z" fill="#f7bb7c" fill-opacity="0.5"/>
<path d="M49.92,481.53A103,103 0 0 1 50.18,481.31Q116.40,560.20 52.64,641.09A103,103 0 0 1 52.46,640.95Q116.40,560.20 49.92,481.53Z" fill="#f7bb7c" fill-opacity="0.5"/>
<path d="M47.95,483.24A103,103 0 0 1 48.28,482.94Q116.40,560.20 121.43,663.08A103,103 0 0 1 120.89,663.10Q116.40,560.20 47.95,483.24Z" fill="#f4883a" fill-opacity="0.5"/>
<path d="M46.29,484.75A103,103 0 0 1 47.95,483.24Q116.40,560.20 73.78,653.97A103,103 0 0 1 71.21,652.76Q116.40,560.20 46.29,484.75Z" fill="#f4883a" fill-opacity="0.5"/>
<path d="M45.85,485.16A103,103 0 0 1 46.29,484.75Q116.40,560.20 57.65,644.80A103,103 0 0 1 56.93,644.30Q116.40,560.20 45.85,485.16Z" fill="#f4883a" fill-opacity="0.5"/>
<path d="M45.63,485.36A103,103 0 0 1 45.85,485.16Q116.40,560.20 52.46,640.95A103,103 0 0 1 52.27,640.80Q116.40,560.20 45.63,485.36Z" fill="#f4883a" fill-opacity="0.5"/>
<path d="M43.06,487.88A103,103 0 0 1 43.70,487.24Q116.40,560.20 120.89,663.10A103,103 0 0 1 119.99,663.14Q116.40,560.20 43.06,487.88Z" fill="#7452b2" fill-opacity="0.5"/>
<path d="M41.19,489.82A103,103 0 0 1 43.06,487.88Q116.40,560.20 71.21,652.76A103,103 0 0 1 68.68,651.48Q116.40,560.20 41.19,489.82Z" fill="#7452b2" fill-opacity="0.5"/>
<path d="M40.46,490.61A103,103 0 0 1 41.19,489.82Q116.40,560.20 56.93,644.30A103,103 0 0 1 55.86,643.53Q116.40,560.20 40.46,490.61Z" fill="#7452b2" fill-opacity="0.5"/>
<path d="M40.10,491.01A103,103 0 0 1 40.46,490.61Q116.40,560.20 52.27,640.80A103,103 0 0 1 52.00,640.58Q116.40,560.20 40.10,491.01Z" fill="#7452b2" fill-opacity="0.5"/>
<path d="M39.86,491.28A103,103 0 0 1 40.10,491.01Q116.40,560.20 49.20,638.26A103,103 0 0 1 48.96,638.05Q116.40,560.20 39.86,491.28Z" fill="#7452b2" fill-opacity="0.5"/>
<path d="M262.17,545.52A112.6,112.6 0 0 1 267.04,524.90L273.96,527.24A105.3,105.3 0 0 0 269.40,546.53Z" fill="#6a2c9e"/>
<path d="M268.37,521.20A112.6,112.6 0 0 1 277.39,502.67L283.63,506.45A105.3,105.3 0 0 0 275.20,523.78Z" fill="#eb7b12"/>
<path d="M279.48,499.34A112.6,112.6 0 0 1 282.84,494.50L288.73,498.81A105.3,105.3 0 0 0 285.59,503.34Z" fill="#f5c08a"/>
<path d="M284.97,491.68A112.6,112.6 0 0 1 286.82,489.38L292.45,494.02A105.3,105.3 0 0 0 290.72,496.17Z" fill="#ef9fa9"/>
<path d="M288.59,487.28A112.6,112.6 0 0 1 291.62,483.92L296.94,488.92A105.3,105.3 0 0 0 294.11,492.06Z" fill="#2b8a3c"/>
<path d="M293.39,482.08A112.6,112.6 0 0 1 340.22,453.49L342.39,460.46A105.3,105.3 0 0 0 298.59,487.19Z" fill="#b4d27f"/>
<path d="M342.47,452.82A112.6,112.6 0 0 1 475.08,511.99L468.50,515.17A105.3,105.3 0 0 0 344.50,459.83Z" fill="#1b6db1"/>
<path d="M476.08,514.13A112.6,112.6 0 0 1 483.41,535.67L476.30,537.31A105.3,105.3 0 0 0 469.44,517.17Z" fill="#a9cae6"/>
<path d="M484.69,579.97A112.6,112.6 0 0 1 449.77,644.02L444.84,638.64A105.3,105.3 0 0 0 477.49,578.74Z" fill="#e2e4c0"/>
<path d="M448.02,645.59A112.6,112.6 0 0 1 338.16,667.84L340.46,660.92A105.3,105.3 0 0 0 443.20,640.11Z" fill="#e8bd22"/>
<path d="M336.11,667.14A112.6,112.6 0 0 1 281.13,625.10L287.13,620.95A105.3,105.3 0 0 0 338.55,660.26Z" fill="#e8921b"/>
<path d="M279.80,623.15A112.6,112.6 0 0 1 268.37,600.80L275.20,598.22A105.3,105.3 0 0 0 285.89,619.12Z" fill="#df5f3c"/>
<path d="M267.56,598.59A112.6,112.6 0 0 1 264.94,590.14L271.99,588.25A105.3,105.3 0 0 0 274.44,596.15Z" fill="#cc2f68"/>
<path d="M426.15,472.35A103,103 0 0 1 466.43,516.17Q373.70,561.00 474.96,579.84A103,103 0 0 1 446.96,633.40Q373.70,561.00 426.15,472.35Z" fill="#4568b8" fill-opacity="0.5"/>
<path d="M374.30,458.00A103,103 0 0 1 426.15,472.35Q373.70,561.00 432.10,645.84A103,103 0 0 1 382.67,663.61Q373.70,561.00 374.30,458.00Z" fill="#4568b8" fill-opacity="0.5"/>
<path d="M353.25,460.05A103,103 0 0 1 374.30,458.00Q373.70,561.00 332.31,655.32A103,103 0 0 1 314.89,645.56Q373.70,561.00 353.25,460.05Z" fill="#4568b8" fill-opacity="0.5"/>
<path d="M346.93,461.54A103,103 0 0 1 353.25,460.05Q373.70,561.00 286.84,616.35A103,103 0 0 1 283.64,610.99Q373.70,561.00 346.93,461.54Z" fill="#4568b8" fill-opacity="0.5"/>
<path d="M345.14,462.04A103,103 0 0 1 346.93,461.54Q373.70,561.00 276.43,594.88A103,103 0 0 1 275.87,593.22Q373.70,561.00 345.14,462.04Z" fill="#4568b8" fill-opacity="0.5"/>
<path d="M473.77,536.59A103,103 0 0 1 474.06,537.83Q373.70,561.00 475.23,578.35A103,103 0 0 1 474.96,579.84Q373.70,561.00 473.77,536.59Z" fill="#b0cde8" fill-opacity="0.5"/>
<path d="M470.71,526.38A103,103 0 0 1 473.77,536.59Q373.70,561.00 441.68,638.38A103,103 0 0 1 432.10,645.84Q373.70,561.00 470.71,526.38Z" fill="#b0cde8" fill-opacity="0.5"/>
<path d="M468.19,520.01A103,103 0 0 1 470.71,526.38Q373.70,561.00 339.32,658.09A103,103 0 0 1 332.31,655.32Q373.70,561.00 468.19,520.01Z" fill="#b0cde8" fill-opacity="0.5"/>
<path d="M467.55,518.56A103,103 0 0 1 468.19,520.01Q373.70,561.00 287.81,617.85A103,103 0 0 1 286.84,616.35Q373.70,561.00 467.55,518.56Z" fill="#b0cde8" fill-opacity="0.5"/>
<path d="M467.35,518.12A103,103 0 0 1 467.55,518.56Q373.70,561.00 276.61,595.38A103,103 0 0 1 276.43,594.88Q373.70,561.00 467.35,518.12Z" fill="#b0cde8" fill-opacity="0.5"/>
<path d="M341.29,463.23A103,103 0 0 1 343.07,462.66Q373.70,561.00 446.96,633.40A103,103 0 0 1 445.62,634.74Q373.70,561.00 341.29,463.23Z" fill="#c6d994" fill-opacity="0.5"/>
<path d="M319.64,473.33A103,103 0 0 1 341.29,463.23Q373.70,561.00 382.67,663.61A103,103 0 0 1 359.52,663.02Q373.70,561.00 319.64,473.33Z" fill="#c6d994" fill-opacity="0.5"/>
<path d="M305.67,483.66A103,103 0 0 1 319.64,473.33Q373.70,561.00 314.89,645.56A103,103 0 0 1 302.30,635.23Q373.70,561.00 305.67,483.66Z" fill="#c6d994" fill-opacity="0.5"/>
<path d="M301.56,487.48A103,103 0 0 1 305.67,483.66Q373.70,561.00 283.64,610.99A103,103 0 0 1 281.17,606.25Q373.70,561.00 301.56,487.48Z" fill="#c6d994" fill-opacity="0.5"/>
<path d="M300.24,488.81A103,103 0 0 1 301.56,487.48Q373.70,561.00 275.87,593.22A103,103 0 0 1 275.33,591.54Q373.70,561.00 300.24,488.81Z" fill="#c6d994" fill-opacity="0.5"/>
<path d="M298.12,491.03A103,103 0 0 1 298.62,490.49Q373.70,561.00 445.62,634.74A103,103 0 0 1 445.21,635.13Q373.70,561.00 298.12,491.03Z" fill="#6a9f64" fill-opacity="0.5"/>
<path d="M297.13,492.10A103,103 0 0 1 298.12,491.03Q373.70,561.00 359.52,663.02A103,103 0 0 1 358.44,662.86Q373.70,561.00 297.13,492.10Z" fill="#6a9f64" fill-opacity="0.5"/>
<path d="M296.65,492.65A103,103 0 0 1 297.13,492.10Q373.70,561.00 302.30,635.23A103,103 0 0 1 301.92,634.87Q373.70,561.00 296.65,492.65Z" fill="#6a9f64" fill-opacity="0.5"/>
<path d="M296.17,493.19A103,103 0 0 1 296.65,492.65Q373.70,561.00 281.17,606.25A103,103 0 0 1 280.94,605.76Q373.70,561.00 296.17,493.19Z" fill="#6a9f64" fill-opacity="0.5"/>
<path d="M295.85,493.56A103,103 0 0 1 296.17,493.19Q373.70,561.00 275.33,591.54A103,103 0 0 1 275.23,591.21Q373.70,561.00 295.85,493.56Z" fill="#6a9f64" fill-opacity="0.5"/>
<path d="M293.86,495.93A103,103 0 0 1 294.22,495.48Q373.70,561.00 445.21,635.13A103,103 0 0 1 444.80,635.52Q373.70,561.00 293.86,495.93Z" fill="#efa8a8" fill-opacity="0.5"/>
<path d="M293.25,496.68A103,103 0 0 1 293.86,495.93Q373.70,561.00 358.44,662.86A103,103 0 0 1 357.55,662.73Q373.70,561.00 293.25,496.68Z" fill="#efa8a8" fill-opacity="0.5"/>
<path d="M292.89,497.13A103,103 0 0 1 293.25,496.68Q373.70,561.00 301.92,634.87A103,103 0 0 1 301.54,634.50Q373.70,561.00 292.89,497.13Z" fill="#efa8a8" fill-opacity="0.5"/>
<path d="M292.65,497.44A103,103 0 0 1 292.89,497.13Q373.70,561.00 280.94,605.76A103,103 0 0 1 280.78,605.44Q373.70,561.00 292.65,497.44Z" fill="#efa8a8" fill-opacity="0.5"/>
<path d="M292.53,497.59A103,103 0 0 1 292.65,497.44Q373.70,561.00 275.23,591.21A103,103 0 0 1 275.18,591.04Q373.70,561.00 292.53,497.59Z" fill="#efa8a8" fill-opacity="0.5"/>
<path d="M290.06,500.90A103,103 0 0 1 290.58,500.17Q373.70,561.00 444.80,635.52A103,103 0 0 1 444.12,636.17Q373.70,561.00 290.06,500.90Z" fill="#f7bb7c" fill-opacity="0.5"/>
<path d="M289.02,502.36A103,103 0 0 1 290.06,500.90Q373.70,561.00 357.55,662.73A103,103 0 0 1 355.76,662.43Q373.70,561.00 289.02,502.36Z" fill="#f7bb7c" fill-opacity="0.5"/>
<path d="M288.21,503.55A103,103 0 0 1 289.02,502.36Q373.70,561.00 301.54,634.50A103,103 0 0 1 300.55,633.51Q373.70,561.00 288.21,503.55Z" fill="#f7bb7c" fill-opacity="0.5"/>
<path d="M287.81,504.15A103,103 0 0 1 288.21,503.55Q373.70,561.00 280.78,605.44A103,103 0 0 1 280.48,604.80Q373.70,561.00 287.81,504.15Z" fill="#f7bb7c" fill-opacity="0.5"/>
<path d="M287.51,504.60A103,103 0 0 1 287.81,504.15Q373.70,561.00 275.18,591.04A103,103 0 0 1 275.03,590.53Q373.70,561.00 287.51,504.60Z" fill="#f7bb7c" fill-opacity="0.5"/>
<path d="M285.35,508.06A103,103 0 0 1 285.60,507.64Q373.70,561.00 444.12,636.17A103,103 0 0 1 443.70,636.56Q373.70,561.00 285.35,508.06Z" fill="#f4883a" fill-opacity="0.5"/>
<path d="M282.18,513.75A103,103 0 0 1 285.35,508.06Q373.70,561.00 355.76,662.43A103,103 0 0 1 348.67,660.91Q373.70,561.00 282.18,513.75Z" fill="#f4883a" fill-opacity="0.5"/>
<path d="M279.05,520.37A103,103 0 0 1 282.18,513.75Q373.70,561.00 300.55,633.51A103,103 0 0 1 295.21,627.70Q373.70,561.00 279.05,520.37Z" fill="#f4883a" fill-opacity="0.5"/>
<path d="M277.82,523.38A103,103 0 0 1 279.05,520.37Q373.70,561.00 280.48,604.80A103,103 0 0 1 279.02,601.54Q373.70,561.00 277.82,523.38Z" fill="#f4883a" fill-opacity="0.5"/>
<path d="M277.35,524.59A103,103 0 0 1 277.82,523.38Q373.70,561.00 275.03,590.53A103,103 0 0 1 274.63,589.18Q373.70,561.00 277.35,524.59Z" fill="#f4883a" fill-opacity="0.5"/>
<path d="M276.00,528.38A103,103 0 0 1 276.14,527.98Q373.70,561.00 443.70,636.56A103,103 0 0 1 443.29,636.94Q373.70,561.00 276.00,528.38Z" fill="#7452b2" fill-opacity="0.5"/>
<path d="M274.26,534.17A103,103 0 0 1 276.00,528.38Q373.70,561.00 348.67,660.91A103,103 0 0 1 341.19,658.73Q373.70,561.00 274.26,534.17Z" fill="#7452b2" fill-opacity="0.5"/>
<path d="M272.44,542.12A103,103 0 0 1 274.26,534.17Q373.70,561.00 295.21,627.70A103,103 0 0 1 289.02,619.64Q373.70,561.00 272.44,542.12Z" fill="#7452b2" fill-opacity="0.5"/>
<path d="M271.86,545.59A103,103 0 0 1 272.44,542.12Q373.70,561.00 279.02,601.54A103,103 0 0 1 277.35,597.41Q373.70,561.00 271.86,545.59Z" fill="#7452b2" fill-opacity="0.5"/>
<path d="M271.68,546.84A103,103 0 0 1 271.86,545.59Q373.70,561.00 274.63,589.18A103,103 0 0 1 274.21,587.66Q373.70,561.00 271.68,546.84Z" fill="#7452b2" fill-opacity="0.5"/>
<text x="93" y="428.0" font-size="9" text-anchor="start" fill="#1a1a1a" font-weight="normal" textLength="32.2" lengthAdjust="spacingAndGlyphs">FMC63</text>
<text x="366.7" y="428.0" font-size="9" text-anchor="start" fill="#1a1a1a" font-weight="normal" textLength="17" lengthAdjust="spacingAndGlyphs">CAT</text>
<text x="131" y="443.7" font-size="7.8" text-anchor="start" fill="#3a6fb0" font-weight="normal">Granzyme B</text>
<text x="193.3" y="469.8" font-size="7.8" text-anchor="start" fill="#a6b5dc" font-weight="normal">Perforin B</text>
<text x="70.7" y="449.2" font-size="7.8" text-anchor="start" fill="#bccf7e" font-weight="normal">IL-2</text>
<text x="18.8" y="452.3" font-size="7.8" text-anchor="start" fill="#f0a4ae" font-weight="normal">TGF-β</text>
<text x="37" y="461.8" font-size="7.8" text-anchor="start" fill="#3f9450" font-weight="normal">IL-17A</text>
<text x="13.7" y="469.6" font-size="7.8" text-anchor="start" fill="#f4b46e" font-weight="normal">GM-CSF</text>
<text x="9.3" y="476" font-size="7.8" text-anchor="start" fill="#e98d24" font-weight="normal">IFN-γ</text>
<text x="9.8" y="492.4" font-size="7.8" text-anchor="start" fill="#5b2e8e" font-weight="normal">TNF-α</text>
<text x="166.4" y="674" font-size="7.8" text-anchor="middle" fill="#222" font-weight="normal">1</text>
<text x="87.7" y="679.8" font-size="7.8" text-anchor="middle" fill="#222" font-weight="normal">2</text>
<text x="52.6" y="663.7" font-size="7.8" text-anchor="middle" fill="#222" font-weight="normal">3</text>
<text x="43.8" y="656.7" font-size="7.8" text-anchor="middle" fill="#222" font-weight="normal">4</text>
<text x="43.2" y="651.6" font-size="7.8" text-anchor="end" fill="#222" font-weight="normal"><tspan fill="#888">≥</tspan> 5</text>
<text x="428.6" y="456.0" font-size="7.8" text-anchor="start" fill="#3a6fb0" font-weight="normal">Granzyme B</text>
<text x="484.8" y="520.2" font-size="7.8" text-anchor="start" fill="#a6b5dc" font-weight="normal">Perforin B</text>
<text x="301" y="459.8" font-size="7.8" text-anchor="start" fill="#bccf7e" font-weight="normal">IL-2</text>
<text x="289.2" y="484.1" font-size="7.8" text-anchor="end" fill="#3f9450" font-weight="normal">IL-17A</text>
<text x="275.1" y="491.5" font-size="7.8" text-anchor="end" fill="#e3a9b9" font-weight="normal">TGF-β</text>
<text x="275.1" y="501" font-size="7.8" text-anchor="end" fill="#f4b46e" font-weight="normal">GM-CSF</text>
<text x="266.3" y="511" font-size="7.8" text-anchor="end" fill="#ec9a48" font-weight="normal">IFN-γ</text>
<text x="260.3" y="538" font-size="7.8" text-anchor="end" fill="#5b2e8e" font-weight="normal">TNF-α</text>
<text x="477.9" y="625.3" font-size="7.8" text-anchor="middle" fill="#222" font-weight="normal">1</text>
<text x="384.7" y="686.1" font-size="7.8" text-anchor="middle" fill="#222" font-weight="normal">2</text>
<text x="298" y="658.2" font-size="7.8" text-anchor="middle" fill="#222" font-weight="normal">3</text>
<text x="267.2" y="619.8" font-size="7.8" text-anchor="middle" fill="#222" font-weight="normal">4</text>
<text x="265.4" y="599.3" font-size="7.8" text-anchor="end" fill="#222" font-weight="normal"><tspan fill="#888">≥</tspan> 5</text>
</g></svg>
</body></html>
